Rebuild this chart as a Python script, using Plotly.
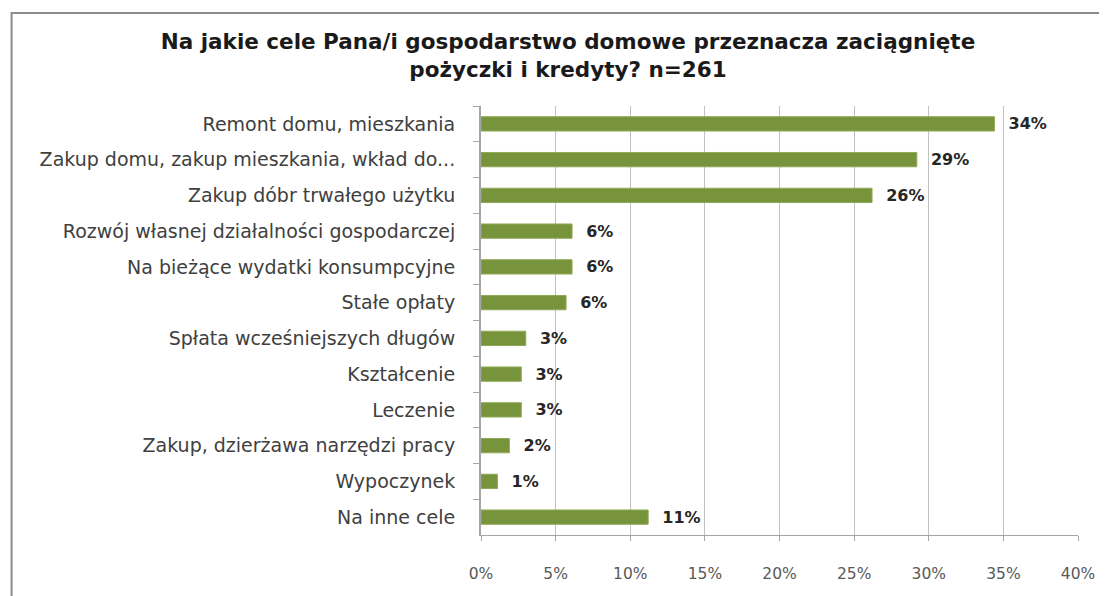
import plotly.graph_objects as go

categories = [
    "Remont domu, mieszkania",
    "Zakup domu, zakup mieszkania, wkład do...",
    "Zakup dóbr trwałego użytku",
    "Rozwój własnej działalności gospodarczej",
    "Na bieżące wydatki konsumpcyjne",
    "Stałe opłaty",
    "Spłata wcześniejszych długów",
    "Kształcenie",
    "Leczenie",
    "Zakup, dzierżawa narzędzi pracy",
    "Wypoczynek",
    "Na inne cele",
]
values = [34.4, 29.2, 26.2, 6.1, 6.1, 5.7, 3.0, 2.7, 2.7, 1.9, 1.1, 11.2]
x_ticks = [0, 5, 10, 15, 20, 25, 30, 35, 40]
x_tick_labels = ["0%", "5%", "10%", "15%", "20%", "25%", "30%", "35%", "40%"]

# the page body adds an 8px margin, so the figure is made smaller and
# every pixel target below is shifted by that offset
OFF = 8
W, H = 1107 - OFF, 596 - OFF
ML, MT = 481 - OFF, 106 - OFF
MR = W - (1080 - OFF)
MB = H - (535 - OFF)


def px_to_paper(x, y):
    # pixel position in the screenshot -> paper coordinates
    pw = W - ML - MR
    ph = H - MT - MB
    return (x - OFF - ML) / pw, (H - MB - (y - OFF)) / ph


fig = go.Figure()
fig.add_trace(go.Bar(
    x=values, y=categories, orientation="h",
    marker=dict(color="#77933C", line=dict(color="#8FAA55", width=1)),
    text=values, texttemplate="\u00a0\u00a0%{x:.0f}%", textposition="outside",
    constraintext="none",
    textfont=dict(family="DejaVu Sans", size=16, color="#262626", weight="bold"),
    cliponaxis=False,
))

x0, y0 = px_to_paper(10, 13)
x1, y1 = px_to_paper(1120, 610)
fig.add_shape(type="rect", xref="paper", yref="paper",
              x0=x0, y0=y1, x1=x1, y1=y0,
              line=dict(color="#8C8C8C", width=2), layer="below")

fig.update_layout(
    width=W, height=H,
    margin=dict(l=ML, r=MR, t=MT, b=MB),
    paper_bgcolor="white", plot_bgcolor="white",
    bargap=0.6, showlegend=False,
    title=dict(
        text="<b>Na jakie cele Pana/i gospodarstwo domowe przeznacza zaciągnięte<br>pożyczki i kredyty? n=261</b>",
        x=(568 - OFF) / W, xanchor="center", xref="container",
        y=1 - (49 - OFF) / H, yanchor="top", yref="container",
        font=dict(family="DejaVu Sans", size=21.5, color="#1A1A1A"),
    ),
)
fig.update_xaxes(
    range=[0, 40], tickvals=x_ticks, ticktext=x_tick_labels,
    showgrid=True, gridcolor="#C0C0C0", gridwidth=1,
    showline=True, linecolor="#A6A6A6", linewidth=1,
    ticks="outside", ticklen=5, tickcolor="#A6A6A6",
    tickfont=dict(family="DejaVu Sans", size=15.5, color="#595959"),
    ticklabelstandoff=19, zeroline=False,
)
fig.update_yaxes(
    autorange="reversed", showline=True, linecolor="#A6A6A6", linewidth=2,
    ticks="outside", ticklen=6, tickcolor="#A6A6A6", tickson="boundaries",
    tickfont=dict(family="DejaVu Sans", size=19, color="#404040"),
    ticklabelstandoff=20,
)

fig.write_html("out.html")
